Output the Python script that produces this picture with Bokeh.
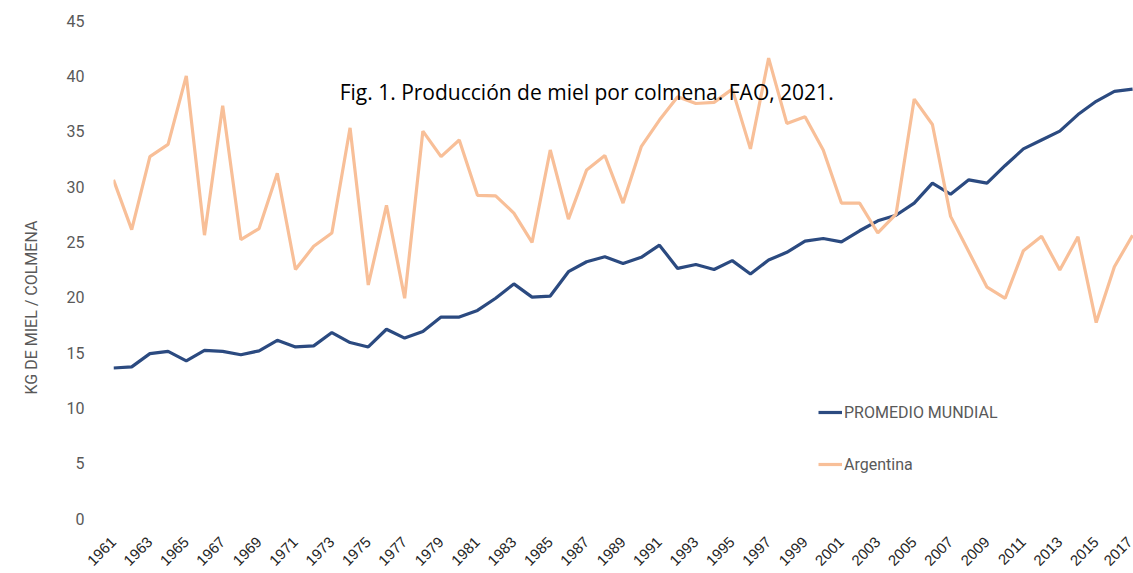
import math
from bokeh.plotting import figure
from bokeh.models import FixedTicker, Label, Legend, LegendItem, Range1d, Title
from bokeh.embed import file_html
from bokeh.resources import INLINE

years = list(range(1961, 2018))
mundial = [13.6, 13.7, 14.9, 15.1, 14.25, 15.2, 15.1, 14.8, 15.15, 16.1,
           15.5, 15.6, 16.8, 15.9, 15.5, 17.1, 16.3, 16.9, 18.2, 18.2,
           18.8, 19.9, 21.2, 20.0, 20.1, 22.3, 23.2, 23.65, 23.05, 23.6,
           24.7, 22.6, 22.95, 22.5, 23.3, 22.1, 23.35, 24.05, 25.07, 25.3,
           25.0, 26.0, 26.9, 27.4, 28.5, 30.3, 29.3, 30.6, 30.3, 31.9,
           33.4, 34.2, 35.0, 36.5, 37.7, 38.6, 38.8]
argentina = [30.6, 26.1, 32.7, 33.8, 40.0, 25.6, 37.3, 25.2, 26.2, 31.2,
             22.5, 24.6, 25.8, 35.3, 21.1, 28.3, 19.9, 35.0, 32.7, 34.2,
             29.2, 29.15, 27.6, 24.95, 33.3, 27.05, 31.5, 32.8, 28.5, 33.6,
             36.0, 38.1, 37.5, 37.6, 38.8, 33.4, 41.6, 35.7, 36.3, 33.3,
             28.5, 28.5, 25.8, 27.5, 37.9, 35.6, 27.3, 24.1, 20.9, 19.9,
             24.2, 25.5, 22.45, 25.45, 17.7, 22.75, 25.6]
x_ticks = list(range(1961, 2018, 2))
y_ticks = list(range(0, 50, 5))

title_text = "Fig. 1. Producción de miel por colmena. FAO, 2021."
y_label = "KG DE MIEL / COLMENA"

p = figure(width=1133, height=573, output_backend="svg", toolbar_location=None,
           x_range=Range1d(1961, 2017.05), y_range=Range1d(0, 45),
           min_border_left=113, min_border_right=0, min_border_top=20,
           min_border_bottom=54)
p.outline_line_color = None
p.xgrid.visible = False
p.ygrid.visible = False

r_m = p.line(years, mundial, line_color="#2B4A80", line_width=3.2)
r_a = p.line(years, argentina, line_color="#F8BF98", line_width=3.2)

p.yaxis.ticker = FixedTicker(ticks=y_ticks)
p.yaxis.axis_line_color = None
p.yaxis.major_tick_line_color = None
p.yaxis.minor_tick_line_color = None
p.yaxis.major_label_text_font = "Roboto"
p.yaxis.major_label_text_font_size = "16px"
p.yaxis.major_label_text_color = "#595959"
p.yaxis.major_label_standoff = 23

p.xaxis.ticker = FixedTicker(ticks=x_ticks)
p.xaxis.axis_line_color = None
p.xaxis.major_tick_line_color = None
p.xaxis.minor_tick_line_color = None
p.xaxis.major_label_orientation = math.pi / 4
p.xaxis.major_label_text_font = "Liberation Sans"
p.xaxis.major_label_text_font_size = "15px"
p.xaxis.major_label_text_color = "#262626"
p.xaxis.major_label_standoff = 15

p.add_layout(Title(text=y_label, align="left", offset=124, standoff=42,
                   vertical_align="top",
                   text_font="Roboto", text_font_size="16px",
                   text_font_style="normal", text_color="#595959"), "left")

p.add_layout(Label(x=1987.0, y=38.5, text=title_text,
                   text_align="center", text_baseline="alphabetic",
                   text_font="Open Sans", text_font_size="21px",
                   text_color="#000000"))

legend = Legend(items=[LegendItem(label="PROMEDIO MUNDIAL", renderers=[r_m]),
                       LegendItem(label="Argentina", renderers=[r_a])],
                location=(705, 44), spacing=32, glyph_width=24,
                label_text_font="Roboto", label_text_font_size="16px",
                label_text_color="#595959", background_fill_alpha=0,
                border_line_color=None, label_standoff=2, padding=0, margin=0)
p.add_layout(legend)

open("out.html", "w").write(file_html(p, INLINE))
